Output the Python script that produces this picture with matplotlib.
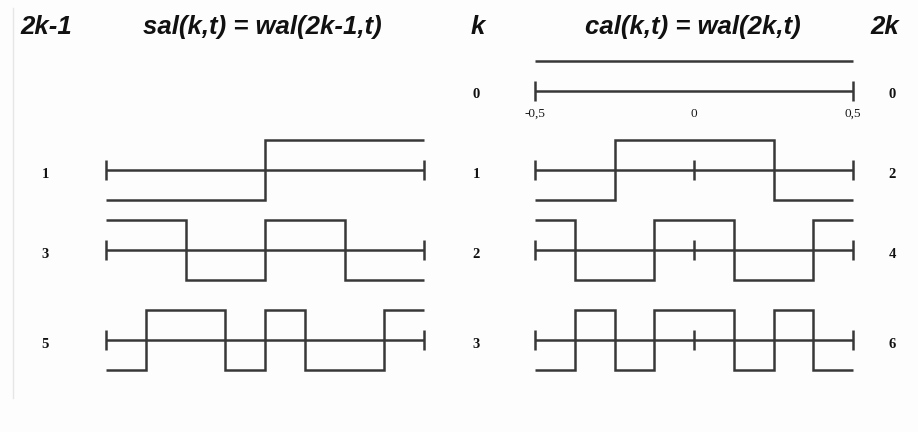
import numpy as np
import matplotlib
matplotlib.use("Agg")
import matplotlib.pyplot as plt

# Walsh function values on the eight sub-intervals of [-0.5, 0.5]
t_edges = np.linspace(-0.5, 0.5, 9)
sal_k = [1, 2, 3]
sal_values = [
    [-1, -1, -1, -1, 1, 1, 1, 1],    # sal(1,t) = wal(1,t)
    [1, 1, -1, -1, 1, 1, -1, -1],    # sal(2,t) = wal(3,t)
    [-1, 1, 1, -1, 1, -1, -1, 1],    # sal(3,t) = wal(5,t)
]
cal_k = [0, 1, 2, 3]
cal_values = [
    [1, 1, 1, 1, 1, 1, 1, 1],        # cal(0,t) = wal(0,t)
    [-1, -1, 1, 1, 1, 1, -1, -1],    # cal(1,t) = wal(2,t)
    [1, -1, -1, 1, 1, -1, -1, 1],    # cal(2,t) = wal(4,t)
    [-1, 1, -1, 1, 1, -1, 1, -1],    # cal(3,t) = wal(6,t)
]
tick_labels = ["-0,5", "0", "0,5"]
tick_pos = [-0.5, 0.0, 0.5]

# layout (pixel rows of the zero lines)
W, H = 918, 432
ROW_Y = [91, 170, 250, 340]
AMP = 30
LINE = "#383838"
BG = "#fcfdfc"
LW = 1.8
serif = ["Liberation Serif", "DejaVu Serif"]
head = dict(family=["Liberation Sans", "DejaVu Sans"], fontsize=18.5,
            fontweight="bold", style="italic", color="#111111", va="center")
num = dict(family=serif, fontsize=10.5, fontweight="bold", color="#111111",
           ha="center", va="center")

fig = plt.figure(figsize=(W / 100, H / 100), dpi=100, facecolor=BG)


def make_panel(x0, x1):
    ax = fig.add_axes([x0 / W, 0, (x1 - x0) / W, 1])
    ax.set_xlim(-0.5, 0.5)
    ax.set_ylim(H, 0)
    ax.axis("off")
    return ax


def draw_row(ax, y, values, mid_tick):
    ax.hlines(y, t_edges[0], t_edges[-1], color=LINE, lw=LW, clip_on=False)
    ticks = [t_edges[0], t_edges[-1]] + ([0.0] if mid_tick else [])
    ax.vlines(ticks, y - 10, y + 10, color=LINE, lw=LW, clip_on=False)
    ax.stairs([y - AMP * v for v in values], t_edges, baseline=None,
              color=LINE, lw=LW, clip_on=False)


ax_sal = make_panel(106, 424)
for k, vals in zip(sal_k, sal_values):
    draw_row(ax_sal, ROW_Y[k], vals, mid_tick=False)

ax_cal = make_panel(535, 853)
for k, vals in zip(cal_k, cal_values):
    draw_row(ax_cal, ROW_Y[k], vals, mid_tick=k > 0)
for p, lab in zip(tick_pos, tick_labels):
    ax_cal.text(p, ROW_Y[0] + 23, lab, ha="center", va="center",
                family=serif, fontsize=9.5, color="#1a1a1a")

# row labels
for k in sal_k:
    fig.text(45 / W, 1 - (ROW_Y[k] + 4) / H, str(2 * k - 1), **num)
for k in cal_k:
    fig.text(476 / W, 1 - (ROW_Y[k] + 4) / H, str(k), **num)
    fig.text(892 / W, 1 - (ROW_Y[k] + 4) / H, str(2 * k), **num)

# column headers
hy = 1 - 27 / H
fig.text(20 / W, hy, "2k-1", ha="left", **head)
fig.text(262 / W, hy, "sal(k,t) = wal(2k-1,t)", ha="center", **head)
fig.text(478 / W, hy, "k", ha="center", **head)
fig.text(693 / W, hy, "cal(k,t) = wal(2k,t)", ha="center", **head)
fig.text(885 / W, hy, "2k", ha="center", **head)

# faint frame edge on the left
fig.add_artist(plt.Line2D([13 / W, 13 / W], [1 - 398 / H, 1 - 8 / H],
                          color="#e6e6e6", lw=1))

fig.savefig("out.png", dpi=100, facecolor=BG)
